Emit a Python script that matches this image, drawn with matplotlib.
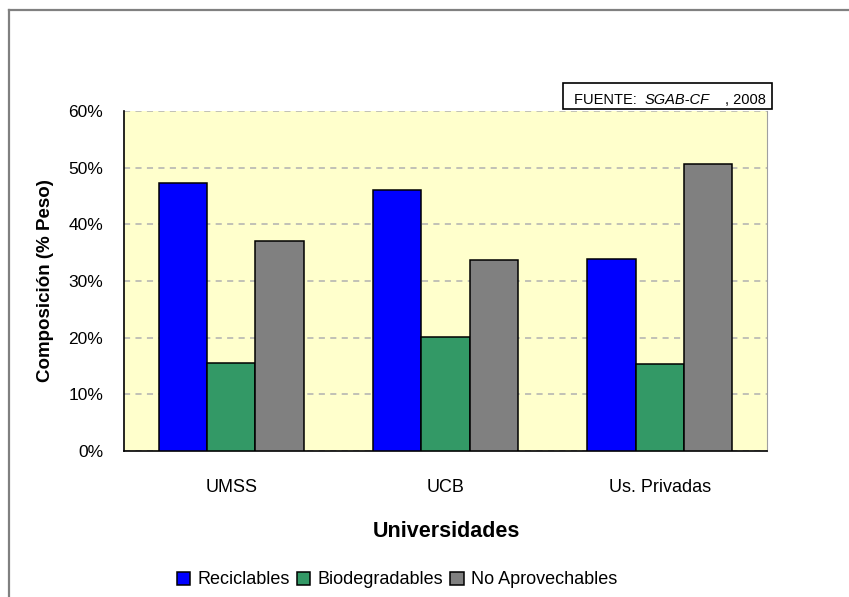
import numpy as np
import matplotlib
matplotlib.use('Agg')
import matplotlib.pyplot as plt
from matplotlib.patches import Rectangle
from matplotlib.lines import Line2D
from matplotlib.ticker import FuncFormatter

universidades = ['UMSS', 'UCB', 'Us. Privadas']
reciclables = [47.3, 46.1, 33.8]
biodegradables = [15.5, 20.2, 15.4]
no_aprovechables = [37.1, 33.7, 50.7]

series = [
    ('Reciclables', reciclables, '#0000FF'),
    ('Biodegradables', biodegradables, '#339966'),
    ('No Aprovechables', no_aprovechables, '#808080'),
]

# no narrow face installed: Liberation Sans at a smaller size keeps the widths
narrow = ['Liberation Sans Narrow', 'Liberation Sans', 'DejaVu Sans']
regular = ['Liberation Sans', 'DejaVu Sans']

W, H = 849, 597
fig = plt.figure(figsize=(W / 100, H / 100), dpi=100)
fig.patch.set_facecolor('white')

# outer chart frame (only top and left visible)
fig.add_artist(Line2D([8.5 / W, 8.5 / W], [-0.1, 1 - 10 / H], transform=fig.transFigure,
                      color='#808080', lw=1.6))
fig.add_artist(Line2D([8.5 / W, 1.1], [1 - 10 / H, 1 - 10 / H], transform=fig.transFigure,
                      color='#808080', lw=1.6))

ax = fig.add_axes([124 / W, 1 - 451 / H, (767 - 124) / W, (451 - 111) / H])
ax.set_facecolor('#FFFFCC')

x = np.arange(len(universidades))
w = 0.225
for i, (name, vals, col) in enumerate(series):
    ax.bar(x + (i - 1) * w, vals, width=w, color=col, edgecolor='black',
           linewidth=1.1, label=name, zorder=3)

ax.set_xlim(-0.5, 2.5)
ax.set_ylim(0, 60)
ax.set_yticks(np.arange(0, 61, 10))
ax.yaxis.set_major_formatter(FuncFormatter(lambda v, p: '%d%%' % v))
ax.yaxis.grid(True, color='#B0B0B0', linestyle=(0, (4, 3.5)), linewidth=1.1, zorder=0)
ax.set_axisbelow(True)

ax.set_xticks(x)
ax.set_xticklabels(universidades, family=narrow, fontsize=13)
for lab in ax.get_yticklabels():
    lab.set_family(regular)
    lab.set_fontsize(12.5)
ax.tick_params(axis='both', length=0)
ax.tick_params(axis='x', pad=20)
ax.tick_params(axis='y', pad=15)

ax.spines['top'].set_visible(False)
ax.spines['right'].set_color('#A0A0A0')
ax.spines['left'].set_color('black')
ax.spines['bottom'].set_color('black')
for s in ['left', 'bottom']:
    ax.spines[s].set_linewidth(1.2)

ax.set_ylabel('Composición (% Peso)', family=narrow, fontsize=13.5, fontweight='bold',
              labelpad=10)
fig.text(446 / W, 1 - 537 / H, 'Universidades', family=narrow, fontsize=15.5,
         fontweight='bold', ha='center', va='baseline')

# source box
fig.add_artist(Rectangle((563 / W, 1 - 109 / H), (772 - 563) / W, (109 - 83) / H,
                         transform=fig.transFigure, facecolor='white',
                         edgecolor='black', lw=1.2))
fig.text(574 / W, 1 - 104 / H, 'FUENTE: ', family=regular, fontsize=10.5,
         va='baseline')
fig.text(645 / W, 1 - 104 / H, 'SGAB-CF', family=regular, fontsize=10.5,
         style='italic', va='baseline')
fig.text(725 / W, 1 - 104 / H, ', 2008', family=regular, fontsize=10.5,
         va='baseline')

fig.legend(loc='center', bbox_to_anchor=(397 / W, 1 - 580 / H), ncol=3,
           frameon=False, prop={'family': narrow, 'size': 13},
           handlelength=0.75, handleheight=0.75, handletextpad=0.4,
           columnspacing=0.4, borderpad=0)

fig.savefig('out.png', dpi=100)
